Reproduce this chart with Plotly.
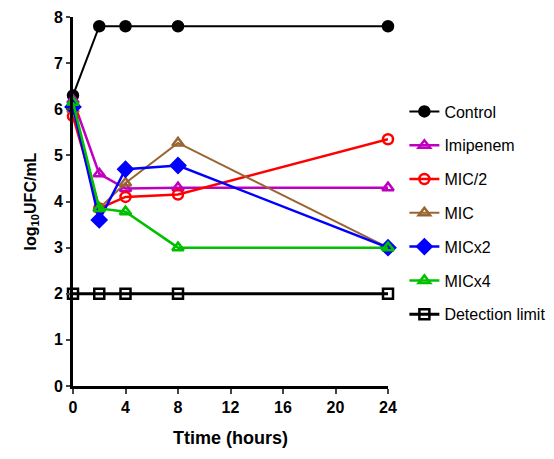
import plotly.graph_objects as go

time_h = [0, 2, 4, 8, 24]
series_names = ["Control", "Imipenem", "MIC/2", "MIC", "MICx2", "MICx4", "Detection limit"]
control = [6.3, 7.8, 7.8, 7.8, 7.8]
imipenem = [6.2, 4.6, 4.28, 4.3, 4.3]
mic_half = [5.85, 3.85, 4.1, 4.15, 5.35]
mic = [6.0, 3.85, 4.4, 5.27, 3.0]
mic_x2 = [6.05, 3.6, 4.7, 4.78, 3.0]
mic_x4 = [6.15, 3.85, 3.78, 3.0, 3.0]
detection = [2, 2, 2, 2, 2]
x_ticks = [0, 4, 8, 12, 16, 20, 24]
y_ticks = [0, 1, 2, 3, 4, 5, 6, 7, 8]

values = [control, imipenem, mic_half, mic, mic_x2, mic_x4, detection]
colors = ["#000000", "#c000c0", "#ff0000", "#996633", "#0000ff", "#00c000", "#000000"]
symbols = ["circle", "triangle-up-open", "circle-open", "triangle-up-open",
           "diamond", "triangle-up-open", "square-open"]
sizes = [10, 10, 10, 10, 11, 10, 10]
widths = [2, 2.5, 2.5, 2, 2.5, 2.5, 3]

fig = go.Figure()
for i in range(7):
    fig.add_trace(go.Scatter(
        x=time_h, y=values[i], name=series_names[i], mode="lines+markers",
        line=dict(color=colors[i], width=widths[i]),
        marker=dict(symbol=symbols[i], size=sizes[i], color=colors[i],
                    line=dict(color=colors[i], width=2.5)),
        cliponaxis=False, legendgroup=series_names[i], legendrank=i + 1,
    ))

axis_font = dict(family="Liberation Sans, Arial", size=16, color="#000000", weight="bold")
fig.update_layout(
    width=554, height=459,
    margin=dict(l=73, r=166, t=17, b=73, autoexpand=False),
    paper_bgcolor="white", plot_bgcolor="white",
    showlegend=True,
    legend=dict(x=1.052, y=0.79, xanchor="left", yanchor="top",
                font=dict(family="Liberation Sans, Arial", size=16, color="#000000"),
                tracegroupgap=10, bgcolor="rgba(0,0,0,0)"),
    xaxis=dict(range=[0, 24], tickvals=x_ticks, ticks="outside", ticklen=5, tickwidth=2,
               showline=True, linewidth=3, linecolor="black", showgrid=False, zeroline=False,
               tickfont=axis_font, automargin=False,
               title=dict(text="Ttime (hours)", font=dict(family="Liberation Sans, Arial", size=18, color="#000", weight="bold"), standoff=17)),
    yaxis=dict(range=[0, 8], tickvals=y_ticks, ticks="outside", ticklen=4, tickwidth=2,
               showline=True, linewidth=3, linecolor="black", showgrid=False, zeroline=False,
               tickfont=axis_font, automargin=False,
               title=dict(text="log<sub>10</sub>UFC/mL", font=dict(family="Liberation Sans, Arial", size=16, color="#000", weight="bold"), standoff=14)),
)
fig.write_html("out.html", config={"displayModeBar": False},
               post_script="document.body.style.margin='0px';")
